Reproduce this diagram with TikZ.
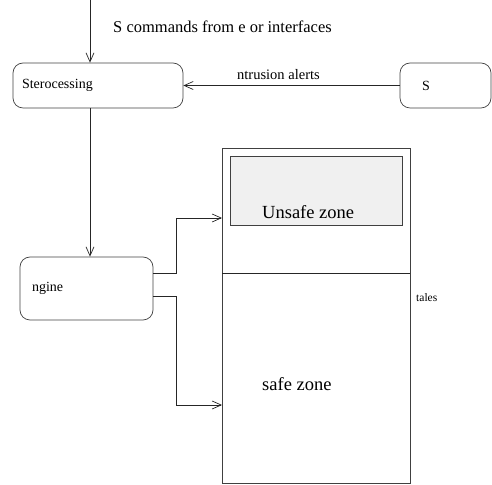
\documentclass[tikz,border=0pt]{standalone}
\usepackage{fontspec}
\setmainfont{Liberation Serif}
\usetikzlibrary{arrows.meta}

\begin{document}
\begin{tikzpicture}[x=1pt,y=1pt,>={Straight Barb[length=9pt,width=8pt]},
  line/.style={black!85,line width=0.7pt},
  roundbox/.style={draw=black!75,line width=0.7pt,rounded corners=10pt,minimum height=45pt,
    align=left,font=\fontsize{14}{16}\selectfont},
  plainbox/.style={draw=black!75,line width=0.7pt,inner sep=0pt},
  zonetext/.style={inner sep=0pt,anchor=west,font=\fontsize{18.5}{22}\selectfont},
  lbl/.style={inner sep=0pt,anchor=west,font=\fontsize{16.5}{19}\selectfont}]
  \useasboundingbox (0,0) rectangle (492,484);
  % Boxes
  \node[roundbox,inner xsep=9pt,text width=152pt] (pre) at (98,398.5) {Sterocessing};
  \node[roundbox,inner xsep=22pt,text width=47pt] (ids) at (445.5,398.5) {S};
  \node[roundbox,inner xsep=12pt,text width=109pt,minimum height=63pt] (eng) at (86.5,195.5) {ngine};
  % Store with its two zones
  \node[plainbox,minimum width=188pt,minimum height=335pt] (store) at (316,168.5) {};
  \node[plainbox,fill=gray!12,minimum width=172pt,minimum height=69pt] (unsafe) at (316,293.5) {};
  \coordinate (divL) at (222,211);
  \coordinate (divR) at (410,211);
  \draw[line] (divL) -- (divR);
  \node[zonetext] (unsafetxt) at (262,272) {Unsafe zone};
  \node[zonetext] (safetxt) at (262,100) {safe zone};
  \node[inner sep=0pt,anchor=west,font=\fontsize{11.5}{13}\selectfont] (tales) at (416,186) {tales};
  % Commands in
  \coordinate (top) at (90,484);
  \draw[line,->] (top) -- (top |- pre.north);
  \node[lbl] (cmdlbl) at (113,457) {S commands from e or interfaces};
  % Alerts
  \draw[line,->] (ids.west) -- (pre.east);
  \node[lbl,font=\fontsize{14.5}{17}\selectfont] (alertlbl) at (237,409) {ntrusion alerts};
  % Preprocessing to engine
  \draw[line,->] (pre.south -| top) -- (top |- eng.north);
  % Engine to zones
  \coordinate (outA) at (153,211);
  \coordinate (outB) at (153,188);
  \coordinate (inA) at (222,266);
  \coordinate (inB) at (222,79);
  \draw[line,->] (outA) -- ++(23,0) |- (inA);
  \draw[line,->] (outB) -- ++(23,0) |- (inB);
\end{tikzpicture}
\end{document}
